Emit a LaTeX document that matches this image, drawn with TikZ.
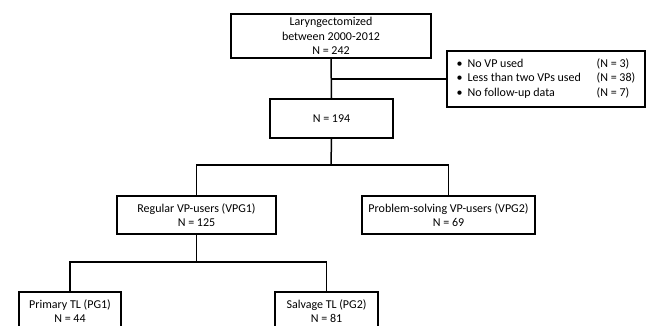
\documentclass[tikz,border=0pt]{standalone}
\usepackage{fontspec}
\setmainfont{Carlito}
\usepackage{tikz}

\begin{document}
\begin{tikzpicture}[x=1pt,y=-1pt,
  box/.style={draw=black,line width=1.5pt,align=center,inner sep=0pt,
    font=\fontsize{12}{14.5}\selectfont},
  link/.style={line width=1.5pt}]
\useasboundingbox (0,0) rectangle (647,326);
\clip (0,0) rectangle (647,326);

\node[box,minimum width=200pt,minimum height=44pt] (start) at (331,36)
  {Laryngectomized\\between 2000-2012\\N = 242};
\node[box,minimum width=198pt,minimum height=56pt] (excl) at (546,79)
  {\begin{tabular}{@{}p{11pt}@{}p{129pt}@{}l@{}}
   \textbullet & No VP used & (N = 3)\\
   \textbullet & Less than two VPs used & (N = 38)\\
   \textbullet & No follow-up data & (N = 7)
   \end{tabular}};
\node[box,minimum width=123pt,minimum height=39pt] (total) at (331.5,118.5) {N = 194};

\node[box,minimum width=159pt,minimum height=38pt] (vpgone) at (196.5,215)
  {Regular VP-users (VPG1)\\N = 125};
\node[box,minimum width=173pt,minimum height=38pt] (vpgtwo) at (448.5,215)
  {Problem-solving VP-users (VPG2)\\N = 69};

\node[box,minimum width=102pt,minimum height=38pt] (pgone) at (70,311)
  {Primary TL (PG1)\\N = 44};
\node[box,minimum width=103pt,minimum height=38pt] (pgtwo) at (326.5,311)
  {Salvage TL (PG2)\\N = 81};

% branch points
\coordinate (out) at (331,79);
\coordinate (splitA) at (331,165);
\coordinate (splitB) at (196.5,262);

\draw[link] (start.south) -- (total.north);
\draw[link] (out) -- (excl.west);
\draw[link] (total.south) -- (splitA);
\draw[link] (vpgone.north) |- (splitA) -| (vpgtwo.north);
\draw[link] (vpgone.south) -- (splitB);
\draw[link] (pgone.north) |- (splitB) -| (pgtwo.north);

\end{tikzpicture}
\end{document}
